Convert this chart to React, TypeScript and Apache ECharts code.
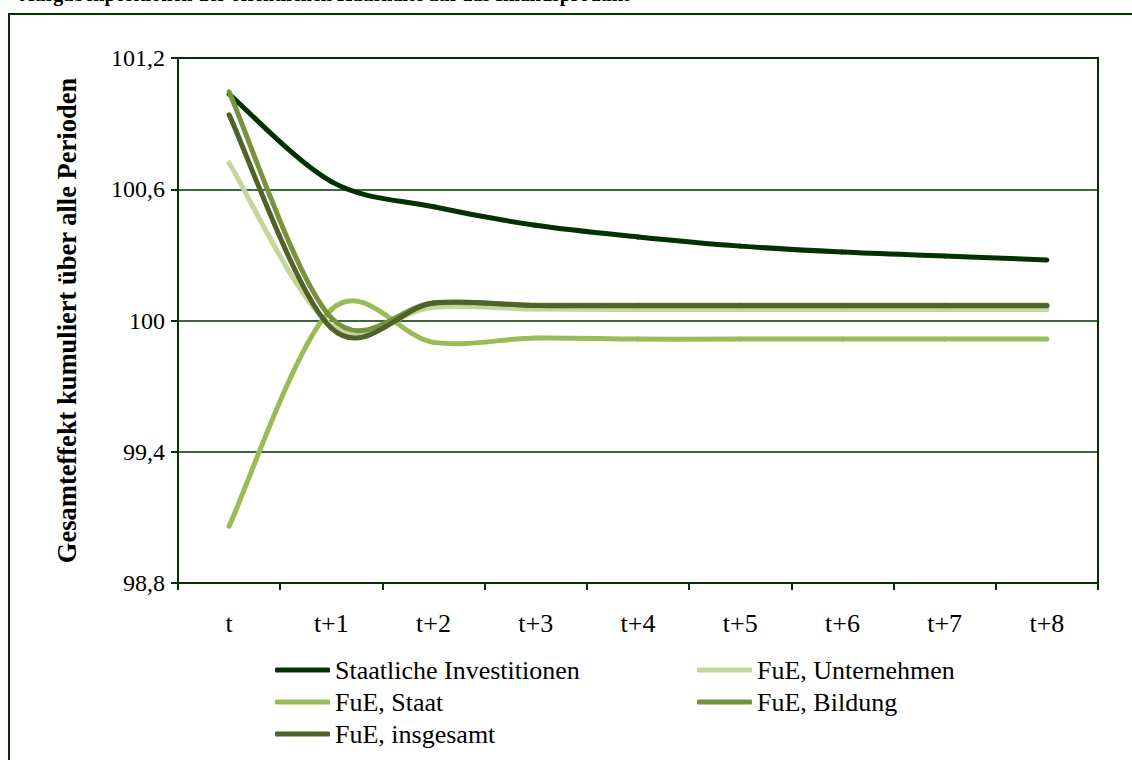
import React, { useEffect, useRef } from "react";
import * as echarts from "echarts";

const categories = ["t", "t+1", "t+2", "t+3", "t+4", "t+5", "t+6", "t+7", "t+8"];
const staatlicheInvestitionen = [101.035, 100.635, 100.52, 100.435, 100.382, 100.34, 100.313, 100.295, 100.277];
const fueUnternehmen = [100.72, 99.978, 100.06, 100.052, 100.05, 100.05, 100.05, 100.05, 100.05];
const fueStaat = [99.06, 100.05, 99.9, 99.92, 99.915, 99.915, 99.915, 99.915, 99.915];
const fueBildung = [101.045, 100.012, 100.08, 100.07, 100.07, 100.07, 100.07, 100.07, 100.07];
const fueInsgesamt = [100.94, 99.965, 100.08, 100.068, 100.068, 100.068, 100.068, 100.068, 100.068];
const seriesNames = ["Staatliche Investitionen", "FuE, Unternehmen", "FuE, Staat", "FuE, Bildung", "FuE, insgesamt"];
const seriesColors = ["#003300", "#c3d69b", "#9bbb59", "#77933c", "#4f6228"];
const yTicks = { min: 98.8, max: 101.2, interval: 0.6 };

const FONT = "Liberation Serif";
const DARK = "#003300";

export default function App() {
  const ref = useRef<HTMLDivElement>(null);
  useEffect(() => {
    document.body.style.margin = "0";
    const chart = echarts.init(ref.current!, null, { renderer: "svg" });
    const allData = [staatlicheInvestitionen, fueUnternehmen, fueStaat, fueBildung, fueInsgesamt];
    const legendText = { fontFamily: FONT, fontSize: 26, color: "#000", padding: [0, 0, 0, 0] };

    // Smoothed (Catmull-Rom / Excel-like) segments through the axis coordinates
    const renderItem = (params: any, api: any) => {
      const s = params.seriesIndex;
      const i = params.dataIndex;
      const d = allData[s];
      const n = d.length;
      if (i >= n - 1) return { type: "group", children: [] };
      const p = (j: number) => {
        const k = Math.max(0, Math.min(n - 1, j));
        return api.coord([k, d[k]]);
      };
      const p0 = p(i - 1);
      const p1 = p(i);
      const p2 = p(i + 1);
      const p3 = p(i + 2);
      return {
        type: "bezierCurve",
        shape: {
          x1: p1[0],
          y1: p1[1],
          x2: p2[0],
          y2: p2[1],
          cpx1: p1[0] + (p2[0] - p0[0]) / 6,
          cpy1: p1[1] + (p2[1] - p0[1]) / 6,
          cpx2: p2[0] - (p3[0] - p1[0]) / 6,
          cpy2: p2[1] - (p3[1] - p1[1]) / 6,
        },
        style: { stroke: seriesColors[s], lineWidth: 5, fill: "none", lineCap: "round" },
      };
    };

    chart.setOption({
      animation: false,
      backgroundColor: "#fff",
      graphic: [
        {
          type: "rect",
          shape: { x: 9, y: 14, width: 1300, height: 900 },
          style: { fill: "none", stroke: DARK, lineWidth: 2 },
          silent: true,
        },
        {
          type: "text",
          x: 20,
          y: -16,
          style: {
            text: "Ausgabenpositionen der öffentlichen Haushalte auf das Inlandsprodukt",
            fontFamily: FONT,
            fontSize: 20,
            fontWeight: "bold",
            fill: "#000",
          },
        },
      ],
      grid: {
        left: 178,
        right: 34,
        top: 58,
        bottom: 177,
        show: true,
        borderColor: DARK,
        borderWidth: 2,
      },
      legend: [
        {
          left: 270,
          top: 652,
          orient: "vertical",
          itemWidth: 55,
          itemHeight: 5,
          itemGap: 6,
          itemTextGap: 2,
          icon: "roundRect",
          data: [seriesNames[0], seriesNames[2], seriesNames[4]],
          textStyle: legendText,
        },
        {
          left: 692,
          top: 652,
          orient: "vertical",
          itemWidth: 55,
          itemHeight: 5,
          itemGap: 6,
          itemTextGap: 2,
          icon: "roundRect",
          data: [seriesNames[1], seriesNames[3]],
          textStyle: legendText,
        },
      ],
      xAxis: {
        type: "category",
        data: categories,
        boundaryGap: true,
        axisLine: { lineStyle: { color: DARK, width: 2 } },
        axisTick: { show: true, length: 7, lineStyle: { color: DARK, width: 2 } },
        axisLabel: { fontFamily: FONT, fontSize: 26, color: "#000", margin: 27 },
        splitLine: { show: false },
      },
      yAxis: {
        type: "value",
        min: yTicks.min,
        max: yTicks.max,
        interval: yTicks.interval,
        name: "Gesamteffekt kumuliert über alle Perioden",
        nameLocation: "middle",
        nameGap: 98,
        nameTextStyle: { fontFamily: FONT, fontSize: 26.5, fontWeight: "bold", color: "#000" },
        axisLine: { show: true, lineStyle: { color: DARK, width: 2 } },
        axisTick: { show: true, length: 7, lineStyle: { color: DARK, width: 2 } },
        axisLabel: {
          fontFamily: FONT,
          fontSize: 24,
          color: "#000",
          margin: 13,
          formatter: (v: number) => {
            const r = Math.round(v * 10) / 10;
            return Number.isInteger(r) ? String(r) : r.toFixed(1).replace(".", ",");
          },
        },
        splitLine: { show: true, lineStyle: { color: DARK, width: 1.5 } },
      },
      series: allData.map((d, i) => ({
        name: seriesNames[i],
        type: "custom",
        renderItem,
        data: d.map((v, k) => [k, v]),
        encode: { x: 0, y: 1 },
        color: seriesColors[i],
        itemStyle: { color: seriesColors[i] },
        z: 2 + i,
      })),
    });
    return () => chart.dispose();
  }, []);
  return <div ref={ref} style={{ position: "absolute", left: 0, top: 0, width: 1132, height: 760 }} />;
}
